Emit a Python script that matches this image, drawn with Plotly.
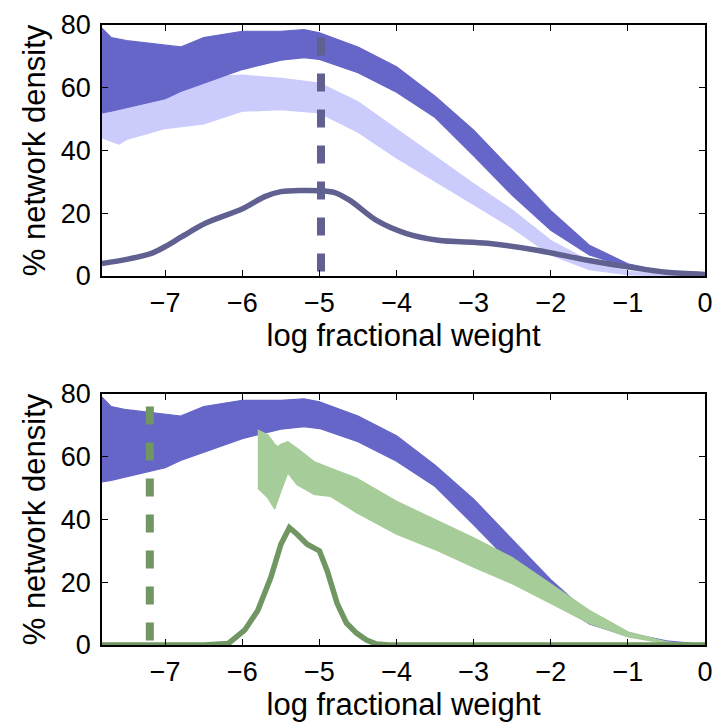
import plotly.graph_objects as go
from plotly.subplots import make_subplots

# ---------------- data ----------------
band_x = [-7.82, -7.7, -7.5, -7.0, -6.8, -6.5, -6.0, -5.5, -5.2, -5.0, -4.5, -4.0, -3.5, -3.0,
          -2.5, -2.0, -1.5, -1.0, -0.5, 0.0]
blue_upper = [79, 76, 75, 73.5, 73, 76, 78, 78, 78.5, 77.5, 73, 66.7, 57.3, 46.5,
              33.6, 20.8, 9.8, 3.9, 1.3, 0.3]
blue_lower = [52, 52.5, 53.5, 56.5, 58.8, 61.5, 65.8, 68.8, 69.6, 69.0, 64.8, 58.6, 50.5, 38.3,
              25.7, 14.6, 6.7, 2.8, 0.8, 0.1]

light_x = [-7.82, -7.6, -7.5, -7.0, -6.5, -6.0, -5.5, -5.0, -4.5, -4.0, -3.5, -3.0,
           -2.5, -2.0, -1.5, -1.0, -0.5, 0.0]
light_upper = [56, 57, 58, 61, 63.5, 64, 63, 61.5, 55.5, 46.8, 38.2, 29.4,
               21, 11.3, 4.8, 1.5, 0.4, 0.0]
light_lower = [44, 42, 43.5, 47, 48.5, 52.5, 53, 52, 45.8, 37.6, 30.1, 22.7,
               15.3, 6.7, 2.0, 0.4, 0.0, 0.0]

obs1_x = [-7.82, -7.5, -7.17, -6.99, -6.78, -6.48, -5.99, -5.71, -5.5, -5.0, -4.8, -4.6,
          -4.26, -3.88, -3.46, -2.82, -2.18, -1.54, -0.9, -0.5, 0.0]
obs1_y = [4.0, 5.3, 7.3, 9.5, 12.6, 16.8, 21.5, 25.3, 26.9, 27.2, 26.6, 24.0,
          17.7, 13.6, 11.4, 10.4, 8.2, 5.1, 2.5, 1.2, 0.5]
thresh1_x = -4.98
thresh1_top = 76

green_x = [-5.80, -5.67, -5.58, -5.54, -5.50, -5.41, -5.29, -5.07, -4.86, -4.52, -4.0, -3.46,
           -3.0, -2.5, -2.0, -1.5, -1.0, -0.5, 0.0]
green_upper = [68.5, 67.0, 64.0, 63.2, 64.0, 64.8, 62.7, 58.5, 56.4, 53.2, 45.8, 39.5,
               34.2, 27.9, 19.6, 11.1, 4.2, 1.0, 0.0]
green_lower = [50.0, 46.9, 43.3, 46.0, 49.0, 54.8, 51.1, 48.0, 47.4, 42.2, 35.3, 30.0,
               24.8, 19.5, 13.2, 6.9, 2.6, 0.4, 0.0]

obs2_x = [-7.82, -6.5, -6.18, -5.97, -5.80, -5.63, -5.50, -5.39, -5.29, -5.16, -5.0, -4.9,
          -4.77, -4.65, -4.52, -4.39, -4.26, -4.1, -2.0, 0.0]
obs2_y = [0, 0, 0.5, 4.7, 11.0, 21.6, 32.1, 37.4, 35.3, 32.1, 30.0, 23.7,
          13.2, 7.0, 3.8, 1.6, 0.3, 0, 0, 0]
thresh2_x = -7.20
thresh2_top = 76

x_ticks = [-7, -6, -5, -4, -3, -2, -1, 0]
y_ticks = [0, 20, 40, 60, 80]

# ---------------- styles ----------------
C_BLUE = "rgb(102,102,200)"
C_LIGHT = "rgb(204,204,252)"
C_OBS1 = "rgb(96,96,145)"
C_GREEN = "rgb(166,204,153)"
C_OBS2 = "rgb(112,150,98)"
FONT = "Liberation Sans, Arial, Helvetica, sans-serif"

fig = make_subplots(rows=2, cols=1, vertical_spacing=0.19)


def band(x, up, lo, color, row):
    fig.add_trace(go.Scatter(x=list(x) + list(x)[::-1], y=list(up) + list(lo)[::-1],
                             fill="toself", fillcolor=color, mode="lines",
                             line=dict(color=color, width=1.2, shape="linear"),
                             hoverinfo="skip", showlegend=False), row=row, col=1)


# top panel
band(light_x, light_upper, light_lower, C_LIGHT, 1)
band(band_x, blue_upper, blue_lower, C_BLUE, 1)
fig.add_trace(go.Scatter(x=obs1_x, y=obs1_y, mode="lines",
                         line=dict(color=C_OBS1, width=5.5, shape="spline", smoothing=0.8),
                         showlegend=False), row=1, col=1)
fig.add_trace(go.Scatter(x=[thresh1_x, thresh1_x], y=[thresh1_top, 0], mode="lines",
                         line=dict(color=C_OBS1, width=8, dash="18px,18px"),
                         showlegend=False), row=1, col=1)

# bottom panel
band(band_x, blue_upper, blue_lower, C_BLUE, 2)
band(green_x, green_upper, green_lower, C_GREEN, 2)
fig.add_trace(go.Scatter(x=obs2_x, y=obs2_y, mode="lines",
                         line=dict(color=C_OBS2, width=5.5),
                         showlegend=False), row=2, col=1)
fig.add_trace(go.Scatter(x=[thresh2_x, thresh2_x], y=[thresh2_top, 0], mode="lines",
                         line=dict(color=C_OBS2, width=8, dash="18px,18px"),
                         showlegend=False), row=2, col=1)

axis_common = dict(showline=True, linecolor="black", linewidth=1.5, mirror="ticks",
                   ticks="inside", ticklen=6, tickwidth=1.2, tickcolor="black",
                   showgrid=False, zeroline=False,
                   tickfont=dict(family=FONT, size=27, color="black"))

for r in (1, 2):
    fig.update_xaxes(range=[-7.82, 0], tickvals=x_ticks, ticklabelstandoff=2,
                     title=dict(text="log fractional weight",
                                font=dict(family=FONT, size=31, color="black"),
                                standoff=6),
                     row=r, col=1, **axis_common)
    fig.update_yaxes(range=[0, 80], tickvals=y_ticks, ticklabelstandoff=4,
                     title=dict(text="% network density",
                                font=dict(family=FONT, size=31, color="black"),
                                standoff=6),
                     row=r, col=1, **axis_common)

fig.update_layout(width=723, height=725,
                  margin=dict(l=102, r=10, t=20, b=80),
                  paper_bgcolor="white", plot_bgcolor="white",
                  font=dict(family=FONT, color="black"))
fig.update_yaxes(domain=[0.5952, 1.0], row=1, col=1)
fig.update_yaxes(domain=[0.0, 0.4048], row=2, col=1)

fig.write_html("out.html")
